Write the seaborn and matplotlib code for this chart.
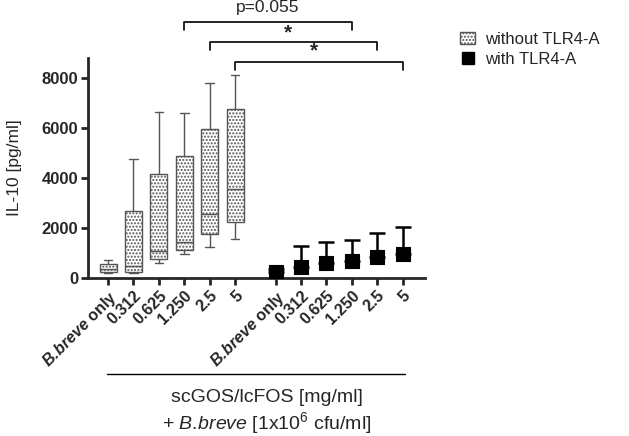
import numpy as np
import pandas as pd
import matplotlib
matplotlib.use('Agg')
import matplotlib.pyplot as plt
import seaborn as sns
from matplotlib.patches import Patch
from matplotlib.lines import Line2D

# categories
dose_labels = ['B.breve only', '0.312', '0.625', '1.250', '2.5', '5']

# without TLR4-A: box plot five-number summaries (pg/ml)
box_min = [200, 200, 620, 960, 1230, 1560]
box_q1 = [230, 230, 760, 1130, 1760, 2240]
box_median = [350, 490, 1090, 1440, 2560, 3570]
box_q3 = [550, 2670, 4170, 4870, 5970, 6760]
box_max = [730, 4760, 6630, 6600, 7800, 8120]

# with TLR4-A: mean + SD
tlr_mean = [250, 450, 600, 690, 850, 970]
tlr_sd = [120, 820, 850, 830, 950, 1070]

# significance brackets: (dose index, label)
sig_idx = [3, 4, 5]
sig_text = ['p=0.055', '*', '*']

sns.set_style('ticks')
plt.rcParams['font.family'] = ['Liberation Sans', 'DejaVu Sans']
plt.rcParams['mathtext.fontset'] = 'custom'
plt.rcParams['mathtext.rm'] = 'Liberation Sans'
plt.rcParams['mathtext.sf'] = 'Liberation Sans'
plt.rcParams['mathtext.it'] = 'Liberation Sans:italic'
plt.rcParams['mathtext.bf'] = 'Liberation Sans:bold'
plt.rcParams['mathtext.bfit'] = 'Liberation Sans:bold:italic'
plt.rcParams['hatch.color'] = '#555555'
plt.rcParams['hatch.linewidth'] = 1.0

pos1 = np.arange(6, dtype=float)
pos2 = pos1 + 6.6

# five values per group -> quartiles land exactly on q1 / q3
rows = []
for i in range(6):
    for v in (box_min[i], box_q1[i], box_median[i], box_q3[i], box_max[i]):
        rows.append({'pos': pos1[i], 'val': v})
df = pd.DataFrame(rows)

fig = plt.figure(figsize=(6.29, 4.36), dpi=100)
ax = fig.add_axes([88 / 629, 1 - 278 / 436, (425 - 88) / 629, (278 - 58) / 436])

sns.boxplot(data=df, x='pos', y='val', native_scale=True, whis=(0, 100),
            width=0.67, color='white', linecolor='#555555', linewidth=1,
            ax=ax)
for p in ax.patches:
    p.set_hatch('.....')

ax.errorbar(pos2, tlr_mean, yerr=[np.zeros(6), tlr_sd], fmt='none',
            ecolor='black', elinewidth=1.8, capsize=5.5, capthick=1.8, zorder=3)
sns.scatterplot(x=pos2, y=tlr_mean, marker='s', s=100, color='black',
                edgecolor='black', ax=ax, zorder=4)

ax.set_xlim(-0.79, 12.48)
ax.set_ylim(0, 8800)
ax.set_yticks([0, 2000, 4000, 6000, 8000])
ax.set_ylabel('IL-10 [pg/ml]', fontsize=12.5)
ax.yaxis.set_label_coords(-0.195, 0.5)
ax.set_xlabel('')

tick_labels = [r'$\mathbfit{B.\!breve}$ only'] + dose_labels[1:]
ax.set_xticks(np.concatenate([pos1, pos2]))
ax.set_xticklabels(tick_labels * 2, rotation=45, ha='right',
                   rotation_mode='anchor', fontsize=11.5, fontweight='bold')
for lab in ax.get_yticklabels():
    lab.set_fontweight('bold')
    lab.set_fontsize(12)

for s in ['top', 'right']:
    ax.spines[s].set_visible(False)
for s in ['left', 'bottom']:
    ax.spines[s].set_linewidth(2)
ax.tick_params(axis='both', width=2, length=5, pad=2)

# significance brackets above the plot
levels = [10240, 9440, 8640]
text_y = [10500, 9800, 9080]
for k, i in enumerate(sig_idx):
    x0, x1, y = pos1[i], pos2[i], levels[k]
    ax.plot([x0, x0, x1, x1], [y - 320, y, y, y - 320], color='black',
            lw=1.2, clip_on=False)
    if sig_text[k] == '*':
        ax.text((x0 + x1) / 2 - 0.2, text_y[k], '*', ha='center', va='center',
                fontsize=15, fontweight='bold', clip_on=False)
    else:
        ax.text((x0 + x1) / 2, text_y[k], sig_text[k], ha='center',
                va='bottom', fontsize=12.5, clip_on=False)

# group label underneath the x axis
trans = ax.get_xaxis_transform()
ax.plot([-0.04, 11.7], [-0.436, -0.436], color='black', lw=1,
        transform=trans, clip_on=False)
ax.text(6.26, -0.541, 'scGOS/lcFOS [mg/ml]', transform=trans,
        ha='center', va='center', fontsize=14)
ax.text(6.26, -0.66, r'+ $\it{B.\!breve}$ [1x10$^{6}$ cfu/ml]',
        transform=trans, ha='center', va='center', fontsize=14)

handles = [Patch(facecolor='white', edgecolor='#555555', hatch='.....'),
           Line2D([], [], marker='s', color='black', ls='', markersize=9)]
fig.legend(handles, ['without TLR4-A', 'with TLR4-A'], loc='upper left',
           bbox_to_anchor=(460 / 629, 1 - 32 / 436), frameon=False,
           borderpad=0, borderaxespad=0,
           fontsize=12, handlelength=0.9, handleheight=0.7,
           handletextpad=0.6, labelspacing=0.3)

fig.savefig('out.png', dpi=100)
